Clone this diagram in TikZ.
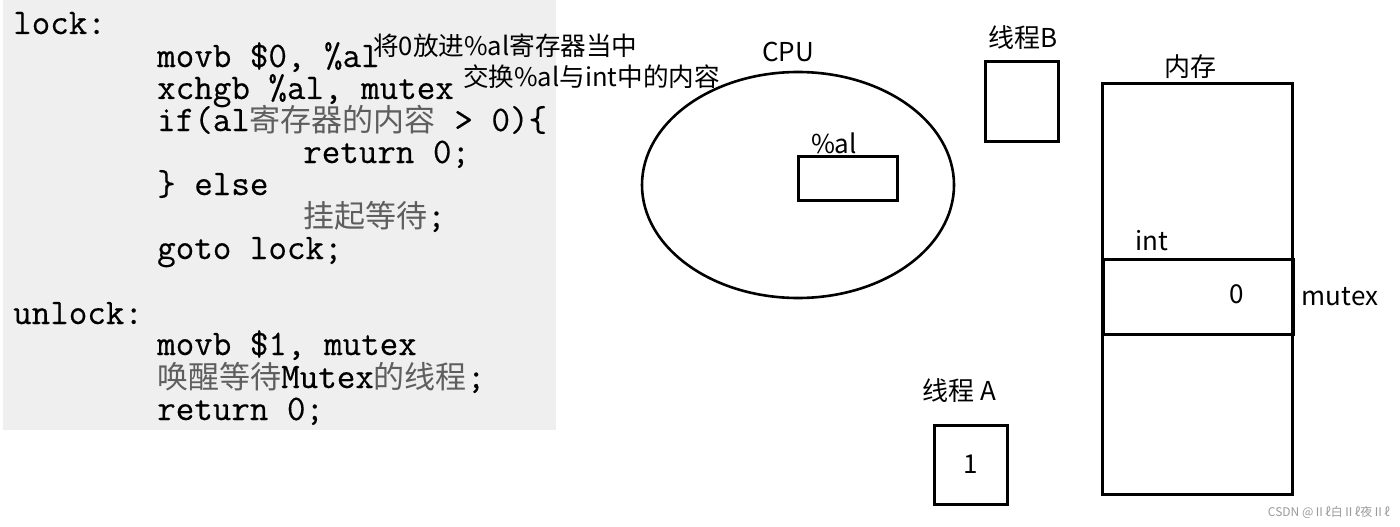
\documentclass[tikz,border=0pt]{standalone}
\usepackage{fontspec}
\usetikzlibrary{shapes.geometric}
\newfontfamily\cjk{Noto Sans CJK SC}
\newfontfamily\codefont{Latin Modern Mono}[FakeBold=0.35]
\definecolor{panel}{HTML}{EFEFEF}
\definecolor{zhgray}{HTML}{5E5E5E}
\definecolor{wm}{HTML}{9A9A9A}
\newcommand\zh[1]{{\cjk\color{zhgray}\fontsize{31}{31}\selectfont #1}}
\tikzset{
  codeline/.style={font=\codefont\fontsize{36}{36}\selectfont, anchor=base west, inner sep=0pt},
  lbl/.style={font=\cjk\fontsize{26}{26}\selectfont, inner sep=0pt},
  note/.style={font=\cjk\fontsize{25.6}{26}\selectfont, inner sep=0pt, anchor=west},
  shapebox/.style={draw, line width=3pt, inner sep=0pt},
}
\begin{document}
\begin{tikzpicture}[x=1pt,y=-1pt]
\useasboundingbox (0,0) rectangle (1400,527);
% code panel
\fill[panel] (3,0) rectangle (556,430);
\node[codeline] (c1) at (13,34) {lock:};
\node[codeline] (c2) at (157,67) {movb \$0, \%al};
\node[codeline] (c3) at (157,99) {xchgb \%al, mutex};
\node[codeline] (c4) at (157,131) {if(al\zh{寄存器的内容} > 0)\{};
\node[codeline] (c5) at (303,163) {return 0;};
\node[codeline] (c6) at (157,195) {\} else};
\node[codeline] (c7) at (303,227) {\zh{挂起等待};};
\node[codeline] (c8) at (157,259) {goto lock;};
\node[codeline] (c9) at (13,324) {unlock:};
\node[codeline] (c10) at (157,355) {movb \$1, mutex};
\node[codeline] (c11) at (157,388) {\zh{唤醒等待}Mutex\zh{的线程};};
\node[codeline] (c12) at (157,420) {return 0;};
% annotations
\node[note] (n1) at (373,46) {将0放进\%al寄存器当中};
\node[note] (n2) at (463,77) {交换\%al与int中的内容};
% CPU
\node[draw, ellipse, line width=2.6pt, minimum width=312pt, minimum height=226pt, inner sep=0pt] (cpu) at (798,185) {};
\node[lbl] (cpul) at (788,52) {CPU};
\node[shapebox, minimum width=99pt, minimum height=44pt] (al) at (847.5,178) {};
\node[lbl] (all) at (834,143) {\%al};
% thread B
\node[lbl] (tbl) at (1023,38) {线程B};
\node[shapebox, minimum width=73pt, minimum height=79pt] (tb) at (1021.5,101.5) {};
% memory
\node[lbl] (meml) at (1190,67) {内存};
\node[shapebox, minimum width=190pt, minimum height=411pt] (mem) at (1197,288.5) {};
\node[shapebox, minimum width=190pt, minimum height=75pt] (mtx) at (1198,296.5) {};
\node[lbl] (intl) at (1152,241) {int};
\node[lbl] (zero) at (1237,294) {0};
\node[lbl] (mtxl) at (1340,297) {mutex};
% thread A
\node[lbl] (tal) at (959,391) {线程 A};
\node[shapebox, minimum width=73pt, minimum height=79pt] (ta) at (971,464.5) {};
\node[lbl] (one) at (971,464) {1};
% watermark
\node[font=\cjk\fontsize{12}{12}\selectfont, text=wm, inner sep=0pt, anchor=east] (wmk) at (1390,512) {CSDN @Ⅱℓ白Ⅱℓ夜Ⅱℓ};
\end{tikzpicture}
\end{document}
